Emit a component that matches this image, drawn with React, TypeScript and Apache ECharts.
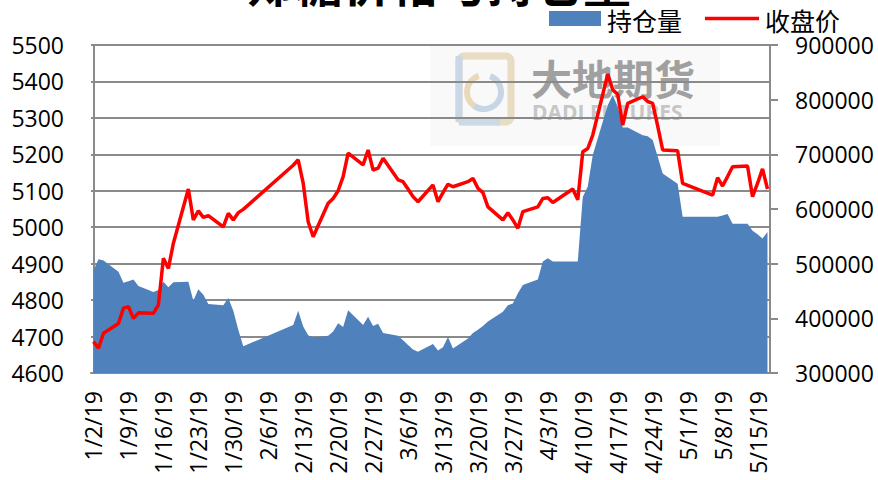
import React, { useEffect, useRef } from 'react';
import * as echarts from 'echarts';

// Trading days (2019, M/D)
const dates = [
  '1/2','1/3','1/4','1/7','1/8','1/9','1/10','1/11','1/14','1/15','1/16','1/17','1/18',
  '1/21','1/22','1/23','1/24','1/25','1/28','1/29','1/30','1/31','2/1',
  '2/11','2/12','2/13','2/14','2/15','2/18','2/19','2/20','2/21','2/22',
  '2/25','2/26','2/27','2/28','3/1','3/4','3/5','3/6','3/7','3/8',
  '3/11','3/12','3/13','3/14','3/15','3/18','3/19','3/20','3/21','3/22',
  '3/25','3/26','3/27','3/28','3/29','4/1','4/2','4/3','4/4',
  '4/8','4/9','4/10','4/11','4/12','4/15','4/16','4/17','4/18','4/19',
  '4/22','4/23','4/24','4/25','4/26','4/29','4/30',
  '5/6','5/7','5/8','5/9','5/10','5/13','5/14','5/15','5/16','5/17',
];

// 收盘价 (left axis)
const closePrice = [
  4686, 4668, 4709, 4736, 4778, 4782, 4750, 4765, 4764, 4787, 4915, 4887, 4956,
  5105, 5020, 5045, 5027, 5032, 5001, 5038, 5020, 5040, 5049,
  5170, 5185, 5121, 5015, 4974, 5066, 5079, 5100, 5139, 5203,
  5171, 5212, 5157, 5162, 5189, 5130, 5125, 5105, 5084, 5070,
  5116, 5070, 5095, 5118, 5111, 5125, 5134, 5107, 5095, 5056,
  5020, 5040, 5020, 4997, 5043, 5056, 5079, 5081, 5068,
  5105, 5075, 5207, 5216, 5253, 5420, 5377, 5365, 5280, 5340,
  5358, 5345, 5340, 5278, 5212, 5210, 5120,
  5088, 5136, 5113, 5139, 5166, 5168, 5084, 5120, 5160, 5105,
];

// 持仓量 (right axis)
const openInterest = [
  488000, 508000, 506000, 485000, 465000, 468000, 471000, 459000, 448000, 452000, 467000, 457000, 466000,
  467000, 432000, 453000, 443000, 426000, 424000, 437000, 414000, 379000, 349000,
  388000, 414000, 385000, 369000, 365000, 368000, 376000, 391000, 384000, 415000,
  388000, 403000, 386000, 390000, 373000, 368000, 360000, 351000, 343000, 339000,
  353000, 341000, 347000, 366000, 345000, 363000, 373000, 379000, 386000, 394000,
  412000, 424000, 427000, 446000, 461000, 471000, 504000, 510000, 504000,
  504000, 504000, 622000, 641000, 699000, 790000, 808000, 787000, 749000, 749000,
  735000, 733000, 726000, 696000, 665000, 646000, 586000,
  586000, 586000, 588000, 591000, 573000, 573000, 560000, 554000, 546000, 558000,
];

// Date-axis tick labels
const tickDates = [
  '1/2','1/9','1/16','1/23','1/30','2/6','2/13','2/20','2/27','3/6',
  '3/13','3/20','3/27','4/3','4/10','4/17','4/24','5/1','5/8','5/15',
];

const START = Date.UTC(2019, 0, 2);
const DAY = 86400000;
function dayIndex(md: string): number {
  const [m, d] = md.split('/').map(Number);
  return Math.round((Date.UTC(2019, m - 1, d) - START) / DAY);
}
function dayLabel(i: number): string {
  const dt = new Date(START + Math.round(i) * DAY);
  return `${dt.getUTCMonth() + 1}/${dt.getUTCDate()}/19`;
}

const FONT = '"Open Sans", sans-serif';
const CJK = '"Noto Sans CJK SC", sans-serif';
const AXIS_GRAY = '#8a8a8a';

export default function App() {
  const ref = useRef<HTMLDivElement>(null);

  useEffect(() => {
    if (!ref.current) return;
    const chart = echarts.init(ref.current, undefined, { renderer: 'svg' });
    const xs = dates.map(dayIndex);
    const priceData = xs.map((x, i) => [x, closePrice[i]]);
    const oiData = xs.map((x, i) => [x, openInterest[i]]);
    const tickDays = tickDates.map(dayIndex);

    chart.setOption({
      animation: false,
      backgroundColor: '#ffffff',
      title: {
        text: '郑糖价格与持仓量',
        left: 'center',
        top: -48,
        textStyle: { fontSize: 48, fontWeight: 'bold', color: '#000', fontFamily: CJK },
      },
      legend: { show: false },
      graphic: [
        {
          type: 'group',
          z: -10,
          silent: true,
          children: [
            { type: 'rect', shape: { x: 430, y: 46, width: 290, height: 100 }, style: { fill: '#f9f9f9' } },
            { type: 'rect', shape: { x: 459, y: 56, width: 52, height: 66, r: 5 }, style: { fill: 'none', stroke: '#e8dcc2', lineWidth: 7 } },
            { type: 'line', shape: { x1: 459, y1: 56, x2: 459, y2: 122 }, style: { stroke: '#c9d7e6', lineWidth: 7 } },
            { type: 'line', shape: { x1: 459, y1: 122, x2: 500, y2: 122 }, style: { stroke: '#cdd9e6', lineWidth: 7 } },
            { type: 'arc', shape: { cx: 484, cy: 92, r: 17, startAngle: -1.2, endAngle: 2.2 }, style: { fill: 'none', stroke: '#c6d6e6', lineWidth: 6 } },
            { type: 'arc', shape: { cx: 484, cy: 92, r: 17, startAngle: 2.2, endAngle: 4.4 }, style: { fill: 'none', stroke: '#ead9b8', lineWidth: 6 } },
            { type: 'text', x: 531, y: 56, style: { text: '大地期货', fontSize: 41, fontWeight: 'bold', fill: '#a0a0a0', fontFamily: CJK } },
            { type: 'text', x: 532, y: 101, style: { text: 'DADI FUTURES', fontSize: 21, fontWeight: 'bold', fill: '#c6c6c6', fontFamily: FONT } },
          ],
        },
        {
          type: 'group',
          z: 10,
          silent: true,
          children: [
            { type: 'rect', shape: { x: 549, y: 11, width: 52, height: 15 }, style: { fill: '#4f81bd' } },
            { type: 'text', x: 607, y: 20, style: { text: '持仓量', fontSize: 25, fill: '#000', fontFamily: CJK, verticalAlign: 'middle' } },
            { type: 'line', shape: { x1: 705, y1: 18.5, x2: 759, y2: 18.5 }, style: { stroke: '#ff0000', lineWidth: 3.5 } },
            { type: 'text', x: 765, y: 20, style: { text: '收盘价', fontSize: 25, fill: '#000', fontFamily: CJK, verticalAlign: 'middle' } },
          ],
        },
      ],
      grid: { left: 91, right: 108, top: 45, bottom: 107, containLabel: false, outerBoundsMode: 'none' },
      xAxis: {
        type: 'value',
        min: -0.5,
        max: 135.5,
        axisLine: { show: true, lineStyle: { color: AXIS_GRAY, width: 2 } },
        axisTick: { show: false },
        splitLine: { show: false },
        axisLabel: {
          customValues: tickDays,
          rotate: 90,
          margin: 18,
          fontSize: 23,
          color: '#000',
          fontFamily: FONT,
          formatter: (v: number) => dayLabel(v),
        },
      },
      yAxis: [
        {
          type: 'value',
          position: 'left',
          min: 4600,
          max: 5500,
          interval: 100,
          axisLine: { show: true, lineStyle: { color: AXIS_GRAY, width: 2 } },
          axisTick: { show: false },
          splitLine: { show: true, lineStyle: { color: AXIS_GRAY, width: 2 } },
          axisLabel: { fontSize: 23, margin: 27, color: '#000', fontFamily: FONT, formatter: (v: number) => String(v) },
        },
        {
          type: 'value',
          position: 'right',
          min: 300000,
          max: 900000,
          interval: 100000,
          axisLine: { show: true, lineStyle: { color: AXIS_GRAY, width: 2 } },
          axisTick: { show: true, length: 8, lineStyle: { color: AXIS_GRAY, width: 2 } },
          splitLine: { show: false },
          axisLabel: { fontSize: 23, margin: 25, color: '#000', fontFamily: FONT, formatter: (v: number) => String(v) },
        },
      ],
      series: [
        {
          name: '持仓量',
          type: 'line',
          yAxisIndex: 1,
          data: oiData,
          symbol: 'none',
          color: '#4f81bd',
          lineStyle: { width: 0 },
          areaStyle: { color: '#4f81bd', opacity: 1 },
          z: 2,
        },
        {
          name: '收盘价',
          type: 'line',
          yAxisIndex: 0,
          data: priceData,
          symbol: 'none',
          color: '#ff0000',
          lineStyle: { width: 3.5, color: '#ff0000' },
          z: 3,
        },
      ],
    });

    return () => chart.dispose();
  }, []);

  return <div ref={ref} style={{ position: 'fixed', left: 0, top: 0, width: 878, height: 480 }} />;
}
